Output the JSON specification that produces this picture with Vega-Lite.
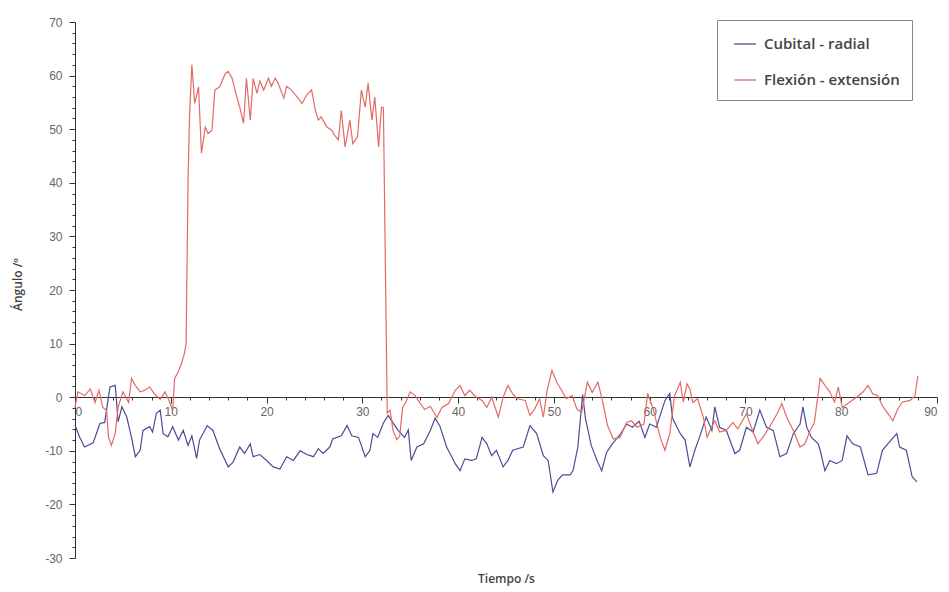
{
  "$schema": "https://vega.github.io/schema/vega-lite/v6.json",
  "width": 862,
  "height": 536,
  "autosize": {"type": "none"},
  "padding": {"left": 75, "top": 22, "right": 12, "bottom": 34},
  "background": "white",
  "config": {
    "view": {"stroke": null},
    "axis": {"grid": false, "domainColor": "#333", "tickColor": "#333", "labelColor": "#666", "labelFont": "Liberation Sans", "labelFontSize": 12, "titleFont": "Open Sans", "titleFontWeight": 600, "titleFontSize": 12, "titleColor": "#444"}
  },
  "data": {"values": [
    {"serie":"Cubital - radial","t":0,"v":-5.2},{"serie":"Cubital - radial","t":0.5,"v":-7.5},{"serie":"Cubital - radial","t":1.0,"v":-9.3},{"serie":"Cubital - radial","t":1.9,"v":-8.5},{"serie":"Cubital - radial","t":2.6,"v":-4.9},{"serie":"Cubital - radial","t":3.1,"v":-4.7},{"serie":"Cubital - radial","t":3.65,"v":1.9},{"serie":"Cubital - radial","t":4.2,"v":2.2},{"serie":"Cubital - radial","t":4.5,"v":-4.6},{"serie":"Cubital - radial","t":4.9,"v":-1.8},{"serie":"Cubital - radial","t":5.4,"v":-3.7},{"serie":"Cubital - radial","t":5.9,"v":-7.5},{"serie":"Cubital - radial","t":6.3,"v":-11.1},{"serie":"Cubital - radial","t":6.8,"v":-9.9},{"serie":"Cubital - radial","t":7.1,"v":-6.2},{"serie":"Cubital - radial","t":7.8,"v":-5.5},{"serie":"Cubital - radial","t":8.1,"v":-6.5},{"serie":"Cubital - radial","t":8.5,"v":-3.0},{"serie":"Cubital - radial","t":8.9,"v":-2.4},{"serie":"Cubital - radial","t":9.2,"v":-6.8},{"serie":"Cubital - radial","t":9.7,"v":-7.4},{"serie":"Cubital - radial","t":10.2,"v":-5.5},{"serie":"Cubital - radial","t":10.8,"v":-8.0},{"serie":"Cubital - radial","t":11.3,"v":-6.2},{"serie":"Cubital - radial","t":11.8,"v":-9.0},{"serie":"Cubital - radial","t":12.2,"v":-7.2},{"serie":"Cubital - radial","t":12.7,"v":-11.4},{"serie":"Cubital - radial","t":13.0,"v":-8.0},{"serie":"Cubital - radial","t":13.8,"v":-5.3},{"serie":"Cubital - radial","t":14.4,"v":-6.2},{"serie":"Cubital - radial","t":15.1,"v":-9.6},{"serie":"Cubital - radial","t":16.0,"v":-13.0},{"serie":"Cubital - radial","t":16.5,"v":-12.1},{"serie":"Cubital - radial","t":17.2,"v":-9.3},{"serie":"Cubital - radial","t":17.7,"v":-10.5},{"serie":"Cubital - radial","t":18.3,"v":-8.7},{"serie":"Cubital - radial","t":18.6,"v":-11.1},{"serie":"Cubital - radial","t":19.3,"v":-10.7},{"serie":"Cubital - radial","t":20.0,"v":-11.8},{"serie":"Cubital - radial","t":20.7,"v":-13.0},{"serie":"Cubital - radial","t":21.4,"v":-13.4},{"serie":"Cubital - radial","t":22.1,"v":-11.1},{"serie":"Cubital - radial","t":22.8,"v":-11.8},{"serie":"Cubital - radial","t":23.5,"v":-10.0},{"serie":"Cubital - radial","t":24.2,"v":-10.7},{"serie":"Cubital - radial","t":24.9,"v":-11.1},{"serie":"Cubital - radial","t":25.4,"v":-9.6},{"serie":"Cubital - radial","t":25.9,"v":-10.5},{"serie":"Cubital - radial","t":26.6,"v":-9.3},{"serie":"Cubital - radial","t":26.9,"v":-7.8},{"serie":"Cubital - radial","t":27.8,"v":-7.2},{"serie":"Cubital - radial","t":28.4,"v":-5.3},{"serie":"Cubital - radial","t":28.9,"v":-7.2},{"serie":"Cubital - radial","t":29.6,"v":-7.5},{"serie":"Cubital - radial","t":30.3,"v":-11.1},{"serie":"Cubital - radial","t":30.8,"v":-9.9},{"serie":"Cubital - radial","t":31.1,"v":-6.8},{"serie":"Cubital - radial","t":31.6,"v":-7.5},{"serie":"Cubital - radial","t":32.2,"v":-4.8},{"serie":"Cubital - radial","t":32.7,"v":-3.4},{"serie":"Cubital - radial","t":33.2,"v":-4.8},{"serie":"Cubital - radial","t":33.7,"v":-6.1},{"serie":"Cubital - radial","t":34.4,"v":-7.5},{"serie":"Cubital - radial","t":34.8,"v":-6.1},{"serie":"Cubital - radial","t":35.1,"v":-11.8},{"serie":"Cubital - radial","t":35.7,"v":-9.3},{"serie":"Cubital - radial","t":36.4,"v":-8.7},{"serie":"Cubital - radial","t":37.1,"v":-6.2},{"serie":"Cubital - radial","t":37.6,"v":-3.9},{"serie":"Cubital - radial","t":38.1,"v":-5.4},{"serie":"Cubital - radial","t":38.8,"v":-9.3},{"serie":"Cubital - radial","t":39.7,"v":-12.4},{"serie":"Cubital - radial","t":40.2,"v":-13.7},{"serie":"Cubital - radial","t":40.7,"v":-11.5},{"serie":"Cubital - radial","t":41.4,"v":-11.8},{"serie":"Cubital - radial","t":41.9,"v":-11.5},{"serie":"Cubital - radial","t":42.5,"v":-7.5},{"serie":"Cubital - radial","t":43.0,"v":-8.7},{"serie":"Cubital - radial","t":43.5,"v":-10.9},{"serie":"Cubital - radial","t":44.0,"v":-9.9},{"serie":"Cubital - radial","t":44.7,"v":-13.0},{"serie":"Cubital - radial","t":45.2,"v":-11.8},{"serie":"Cubital - radial","t":45.7,"v":-9.9},{"serie":"Cubital - radial","t":46.8,"v":-9.3},{"serie":"Cubital - radial","t":47.5,"v":-5.3},{"serie":"Cubital - radial","t":48.2,"v":-6.8},{"serie":"Cubital - radial","t":48.9,"v":-10.9},{"serie":"Cubital - radial","t":49.4,"v":-11.8},{"serie":"Cubital - radial","t":49.9,"v":-17.7},{"serie":"Cubital - radial","t":50.4,"v":-15.5},{"serie":"Cubital - radial","t":50.9,"v":-14.5},{"serie":"Cubital - radial","t":51.7,"v":-14.5},{"serie":"Cubital - radial","t":52.0,"v":-13.7},{"serie":"Cubital - radial","t":52.5,"v":-9.3},{"serie":"Cubital - radial","t":53.0,"v":0.5},{"serie":"Cubital - radial","t":53.3,"v":-4.0},{"serie":"Cubital - radial","t":53.9,"v":-9.0},{"serie":"Cubital - radial","t":54.5,"v":-11.8},{"serie":"Cubital - radial","t":55.0,"v":-13.7},{"serie":"Cubital - radial","t":55.5,"v":-10.3},{"serie":"Cubital - radial","t":56.1,"v":-8.7},{"serie":"Cubital - radial","t":56.9,"v":-7.0},{"serie":"Cubital - radial","t":57.6,"v":-5.0},{"serie":"Cubital - radial","t":58.2,"v":-5.6},{"serie":"Cubital - radial","t":58.9,"v":-4.5},{"serie":"Cubital - radial","t":59.5,"v":-7.5},{"serie":"Cubital - radial","t":60.0,"v":-5.0},{"serie":"Cubital - radial","t":60.7,"v":-5.6},{"serie":"Cubital - radial","t":61.6,"v":-0.6},{"serie":"Cubital - radial","t":62.1,"v":0.7},{"serie":"Cubital - radial","t":62.4,"v":-4.0},{"serie":"Cubital - radial","t":63.2,"v":-6.8},{"serie":"Cubital - radial","t":63.7,"v":-8.0},{"serie":"Cubital - radial","t":64.2,"v":-13.0},{"serie":"Cubital - radial","t":64.7,"v":-10.0},{"serie":"Cubital - radial","t":65.2,"v":-7.5},{"serie":"Cubital - radial","t":65.9,"v":-3.7},{"serie":"Cubital - radial","t":66.5,"v":-6.2},{"serie":"Cubital - radial","t":66.8,"v":-1.8},{"serie":"Cubital - radial","t":67.3,"v":-5.6},{"serie":"Cubital - radial","t":68.0,"v":-6.2},{"serie":"Cubital - radial","t":68.9,"v":-10.5},{"serie":"Cubital - radial","t":69.4,"v":-9.9},{"serie":"Cubital - radial","t":70.1,"v":-5.6},{"serie":"Cubital - radial","t":70.8,"v":-6.5},{"serie":"Cubital - radial","t":71.5,"v":-2.4},{"serie":"Cubital - radial","t":72.2,"v":-5.6},{"serie":"Cubital - radial","t":72.9,"v":-6.2},{"serie":"Cubital - radial","t":73.6,"v":-11.1},{"serie":"Cubital - radial","t":74.3,"v":-10.5},{"serie":"Cubital - radial","t":75.0,"v":-6.8},{"serie":"Cubital - radial","t":75.7,"v":-5.0},{"serie":"Cubital - radial","t":76.0,"v":-1.8},{"serie":"Cubital - radial","t":76.4,"v":-5.6},{"serie":"Cubital - radial","t":76.9,"v":-7.5},{"serie":"Cubital - radial","t":77.6,"v":-8.7},{"serie":"Cubital - radial","t":77.8,"v":-9.9},{"serie":"Cubital - radial","t":78.3,"v":-13.7},{"serie":"Cubital - radial","t":78.8,"v":-11.8},{"serie":"Cubital - radial","t":79.5,"v":-12.4},{"serie":"Cubital - radial","t":80.1,"v":-11.8},{"serie":"Cubital - radial","t":80.6,"v":-7.2},{"serie":"Cubital - radial","t":81.2,"v":-8.7},{"serie":"Cubital - radial","t":82.0,"v":-9.3},{"serie":"Cubital - radial","t":82.8,"v":-14.5},{"serie":"Cubital - radial","t":83.7,"v":-14.2},{"serie":"Cubital - radial","t":84.3,"v":-9.9},{"serie":"Cubital - radial","t":85.2,"v":-8.0},{"serie":"Cubital - radial","t":85.8,"v":-6.8},{"serie":"Cubital - radial","t":86.1,"v":-9.3},{"serie":"Cubital - radial","t":86.8,"v":-9.9},{"serie":"Cubital - radial","t":87.4,"v":-14.8},{"serie":"Cubital - radial","t":87.9,"v":-15.8},
    {"serie":"Flexión - extensión","t":0,"v":-1.9},{"serie":"Flexión - extensión","t":0.3,"v":1.0},{"serie":"Flexión - extensión","t":1.0,"v":0.3},{"serie":"Flexión - extensión","t":1.6,"v":1.5},{"serie":"Flexión - extensión","t":2.1,"v":-1.0},{"serie":"Flexión - extensión","t":2.5,"v":1.3},{"serie":"Flexión - extensión","t":2.9,"v":-1.9},{"serie":"Flexión - extensión","t":3.3,"v":-2.5},{"serie":"Flexión - extensión","t":3.5,"v":-7.5},{"serie":"Flexión - extensión","t":3.8,"v":-9.0},{"serie":"Flexión - extensión","t":4.2,"v":-6.8},{"serie":"Flexión - extensión","t":4.5,"v":-1.9},{"serie":"Flexión - extensión","t":5.0,"v":1.0},{"serie":"Flexión - extensión","t":5.6,"v":-1.0},{"serie":"Flexión - extensión","t":5.9,"v":3.5},{"serie":"Flexión - extensión","t":6.3,"v":2.2},{"serie":"Flexión - extensión","t":6.8,"v":1.0},{"serie":"Flexión - extensión","t":7.3,"v":1.3},{"serie":"Flexión - extensión","t":7.8,"v":1.9},{"serie":"Flexión - extensión","t":8.3,"v":0.6},{"serie":"Flexión - extensión","t":8.9,"v":-0.4},{"serie":"Flexión - extensión","t":9.4,"v":1.0},{"serie":"Flexión - extensión","t":9.9,"v":-1.0},{"serie":"Flexión - extensión","t":10.2,"v":-2.5},{"serie":"Flexión - extensión","t":10.4,"v":3.5},{"serie":"Flexión - extensión","t":10.8,"v":4.8},{"serie":"Flexión - extensión","t":11.1,"v":6.2},{"serie":"Flexión - extensión","t":11.4,"v":8.0},{"serie":"Flexión - extensión","t":11.6,"v":10.0},{"serie":"Flexión - extensión","t":11.8,"v":40.0},{"serie":"Flexión - extensión","t":11.95,"v":52.0},{"serie":"Flexión - extensión","t":12.2,"v":62.0},{"serie":"Flexión - extensión","t":12.5,"v":54.8},{"serie":"Flexión - extensión","t":12.9,"v":57.9},{"serie":"Flexión - extensión","t":13.2,"v":45.5},{"serie":"Flexión - extensión","t":13.6,"v":50.4},{"serie":"Flexión - extensión","t":13.9,"v":49.2},{"serie":"Flexión - extensión","t":14.3,"v":49.8},{"serie":"Flexión - extensión","t":14.6,"v":57.3},{"serie":"Flexión - extensión","t":15.1,"v":57.9},{"serie":"Flexión - extensión","t":15.7,"v":60.4},{"serie":"Flexión - extensión","t":16.0,"v":60.8},{"serie":"Flexión - extensión","t":16.4,"v":59.5},{"serie":"Flexión - extensión","t":16.9,"v":56.0},{"serie":"Flexión - extensión","t":17.2,"v":54.1},{"serie":"Flexión - extensión","t":17.6,"v":51.1},{"serie":"Flexión - extensión","t":17.9,"v":59.5},{"serie":"Flexión - extensión","t":18.3,"v":51.7},{"serie":"Flexión - extensión","t":18.6,"v":59.5},{"serie":"Flexión - extensión","t":19.0,"v":56.7},{"serie":"Flexión - extensión","t":19.3,"v":59.0},{"serie":"Flexión - extensión","t":19.7,"v":57.3},{"serie":"Flexión - extensión","t":20.2,"v":59.5},{"serie":"Flexión - extensión","t":20.5,"v":58.0},{"serie":"Flexión - extensión","t":20.9,"v":59.5},{"serie":"Flexión - extensión","t":21.2,"v":58.6},{"serie":"Flexión - extensión","t":21.8,"v":55.8},{"serie":"Flexión - extensión","t":22.1,"v":58.0},{"serie":"Flexión - extensión","t":22.6,"v":57.3},{"serie":"Flexión - extensión","t":23.2,"v":56.0},{"serie":"Flexión - extensión","t":23.7,"v":54.8},{"serie":"Flexión - extensión","t":24.2,"v":56.4},{"serie":"Flexión - extensión","t":24.7,"v":57.3},{"serie":"Flexión - extensión","t":25.1,"v":53.5},{"serie":"Flexión - extensión","t":25.4,"v":51.7},{"serie":"Flexión - extensión","t":25.7,"v":52.3},{"serie":"Flexión - extensión","t":26.3,"v":50.4},{"serie":"Flexión - extensión","t":26.8,"v":49.8},{"serie":"Flexión - extensión","t":27.1,"v":48.9},{"serie":"Flexión - extensión","t":27.5,"v":48.0},{"serie":"Flexión - extensión","t":27.8,"v":53.5},{"serie":"Flexión - extensión","t":28.2,"v":46.7},{"serie":"Flexión - extensión","t":28.7,"v":51.7},{"serie":"Flexión - extensión","t":29.0,"v":47.3},{"serie":"Flexión - extensión","t":29.5,"v":48.6},{"serie":"Flexión - extensión","t":29.9,"v":57.3},{"serie":"Flexión - extensión","t":30.3,"v":54.1},{"serie":"Flexión - extensión","t":30.6,"v":58.6},{"serie":"Flexión - extensión","t":31.0,"v":51.7},{"serie":"Flexión - extensión","t":31.3,"v":56.0},{"serie":"Flexión - extensión","t":31.7,"v":46.7},{"serie":"Flexión - extensión","t":32.0,"v":54.1},{"serie":"Flexión - extensión","t":32.2,"v":54.0},{"serie":"Flexión - extensión","t":32.6,"v":-3.0},{"serie":"Flexión - extensión","t":32.9,"v":-2.4},{"serie":"Flexión - extensión","t":33.2,"v":-6.2},{"serie":"Flexión - extensión","t":33.6,"v":-7.9},{"serie":"Flexión - extensión","t":33.9,"v":-7.3},{"serie":"Flexión - extensión","t":34.2,"v":-2.0},{"serie":"Flexión - extensión","t":34.6,"v":-0.7},{"serie":"Flexión - extensión","t":35.0,"v":1.0},{"serie":"Flexión - extensión","t":35.5,"v":0.3},{"serie":"Flexión - extensión","t":36.0,"v":-1.0},{"serie":"Flexión - extensión","t":36.5,"v":-2.3},{"serie":"Flexión - extensión","t":37.1,"v":-1.7},{"serie":"Flexión - extensión","t":37.8,"v":-3.8},{"serie":"Flexión - extensión","t":38.3,"v":-1.9},{"serie":"Flexión - extensión","t":39.0,"v":-1.2},{"serie":"Flexión - extensión","t":39.7,"v":1.3},{"serie":"Flexión - extensión","t":40.2,"v":2.2},{"serie":"Flexión - extensión","t":40.7,"v":0.3},{"serie":"Flexión - extensión","t":41.2,"v":1.3},{"serie":"Flexión - extensión","t":41.9,"v":0.0},{"serie":"Flexión - extensión","t":42.5,"v":-0.6},{"serie":"Flexión - extensión","t":43.0,"v":-1.9},{"serie":"Flexión - extensión","t":43.5,"v":0.0},{"serie":"Flexión - extensión","t":44.2,"v":-3.7},{"serie":"Flexión - extensión","t":44.7,"v":0.0},{"serie":"Flexión - extensión","t":45.2,"v":2.2},{"serie":"Flexión - extensión","t":45.7,"v":0.6},{"serie":"Flexión - extensión","t":46.2,"v":-0.3},{"serie":"Flexión - extensión","t":47.0,"v":-0.6},{"serie":"Flexión - extensión","t":47.5,"v":-3.4},{"serie":"Flexión - extensión","t":48.0,"v":-2.2},{"serie":"Flexión - extensión","t":48.5,"v":-0.3},{"serie":"Flexión - extensión","t":48.9,"v":-3.7},{"serie":"Flexión - extensión","t":49.3,"v":1.3},{"serie":"Flexión - extensión","t":49.8,"v":5.0},{"serie":"Flexión - extensión","t":50.3,"v":2.8},{"serie":"Flexión - extensión","t":50.8,"v":1.3},{"serie":"Flexión - extensión","t":51.3,"v":-0.3},{"serie":"Flexión - extensión","t":51.9,"v":0.3},{"serie":"Flexión - extensión","t":52.4,"v":-2.2},{"serie":"Flexión - extensión","t":52.9,"v":-2.8},{"serie":"Flexión - extensión","t":53.5,"v":2.8},{"serie":"Flexión - extensión","t":54.0,"v":0.9},{"serie":"Flexión - extensión","t":54.6,"v":2.8},{"serie":"Flexión - extensión","t":55.1,"v":-0.9},{"serie":"Flexión - extensión","t":55.6,"v":-5.3},{"serie":"Flexión - extensión","t":56.2,"v":-7.8},{"serie":"Flexión - extensión","t":56.9,"v":-7.5},{"serie":"Flexión - extensión","t":57.6,"v":-4.7},{"serie":"Flexión - extensión","t":58.1,"v":-4.4},{"serie":"Flexión - extensión","t":58.7,"v":-5.6},{"serie":"Flexión - extensión","t":59.4,"v":-5.0},{"serie":"Flexión - extensión","t":59.8,"v":0.7},{"serie":"Flexión - extensión","t":60.4,"v":-2.4},{"serie":"Flexión - extensión","t":61.1,"v":-7.5},{"serie":"Flexión - extensión","t":61.6,"v":-9.9},{"serie":"Flexión - extensión","t":62.1,"v":-6.8},{"serie":"Flexión - extensión","t":62.6,"v":0.3},{"serie":"Flexión - extensión","t":63.2,"v":2.8},{"serie":"Flexión - extensión","t":63.5,"v":-0.9},{"serie":"Flexión - extensión","t":63.9,"v":2.5},{"serie":"Flexión - extensión","t":64.2,"v":1.5},{"serie":"Flexión - extensión","t":64.5,"v":-1.0},{"serie":"Flexión - extensión","t":65.0,"v":-0.3},{"serie":"Flexión - extensión","t":65.6,"v":-3.7},{"serie":"Flexión - extensión","t":66.0,"v":-7.5},{"serie":"Flexión - extensión","t":66.3,"v":-6.2},{"serie":"Flexión - extensión","t":66.8,"v":-4.4},{"serie":"Flexión - extensión","t":67.3,"v":-6.5},{"serie":"Flexión - extensión","t":68.0,"v":-6.2},{"serie":"Flexión - extensión","t":68.7,"v":-4.7},{"serie":"Flexión - extensión","t":69.2,"v":-5.9},{"serie":"Flexión - extensión","t":70.1,"v":-3.1},{"serie":"Flexión - extensión","t":70.8,"v":-6.5},{"serie":"Flexión - extensión","t":71.3,"v":-8.7},{"serie":"Flexión - extensión","t":71.8,"v":-7.5},{"serie":"Flexión - extensión","t":72.5,"v":-5.6},{"serie":"Flexión - extensión","t":73.3,"v":-3.1},{"serie":"Flexión - extensión","t":73.8,"v":-1.2},{"serie":"Flexión - extensión","t":74.3,"v":-3.7},{"serie":"Flexión - extensión","t":75.0,"v":-6.2},{"serie":"Flexión - extensión","t":75.7,"v":-9.3},{"serie":"Flexión - extensión","t":76.2,"v":-8.7},{"serie":"Flexión - extensión","t":76.7,"v":-6.5},{"serie":"Flexión - extensión","t":77.2,"v":-4.7},{"serie":"Flexión - extensión","t":77.8,"v":3.5},{"serie":"Flexión - extensión","t":78.3,"v":2.2},{"serie":"Flexión - extensión","t":78.8,"v":1.0},{"serie":"Flexión - extensión","t":79.3,"v":-0.9},{"serie":"Flexión - extensión","t":79.7,"v":1.9},{"serie":"Flexión - extensión","t":80.1,"v":-1.9},{"serie":"Flexión - extensión","t":80.9,"v":-0.9},{"serie":"Flexión - extensión","t":81.6,"v":0.0},{"serie":"Flexión - extensión","t":82.3,"v":1.0},{"serie":"Flexión - extensión","t":82.8,"v":2.2},{"serie":"Flexión - extensión","t":83.3,"v":0.6},{"serie":"Flexión - extensión","t":83.8,"v":0.3},{"serie":"Flexión - extensión","t":84.3,"v":-1.6},{"serie":"Flexión - extensión","t":84.9,"v":-3.1},{"serie":"Flexión - extensión","t":85.4,"v":-4.4},{"serie":"Flexión - extensión","t":85.9,"v":-2.2},{"serie":"Flexión - extensión","t":86.4,"v":-0.9},{"serie":"Flexión - extensión","t":87.2,"v":-0.6},{"serie":"Flexión - extensión","t":87.7,"v":0.3},{"serie":"Flexión - extensión","t":88.0,"v":4.0}
  ]},
  "mark": {"type": "line", "strokeWidth": 1.2},
  "encoding": {
    "x": {"field": "t", "type": "quantitative", "scale": {"domain": [0, 90], "nice": false, "zero": false},
      "axis": {"orient": "bottom", "offset": -161,
        "values": [0,2,4,6,8,10,12,14,16,18,20,22,24,26,28,30,32,34,36,38,40,42,44,46,48,50,52,54,56,58,60,62,64,66,68,70,72,74,76,78,80,82,84,86,88,90],
        "labelExpr": "datum.value % 10 === 0 ? replace(datum.label, '−', '-') : ''",
        "tickSize": {"condition": {"test": "datum.value % 10 === 0", "value": 6}, "value": 3},
        "labelPadding": 3, "title": "Tiempo /s", "titleY": 176}},
    "y": {"field": "v", "type": "quantitative", "scale": {"domain": [-30, 70], "nice": false, "zero": false},
      "axis": {"orient": "left",
        "values": [-30,-28,-26,-24,-22,-20,-18,-16,-14,-12,-10,-8,-6,-4,-2,0,2,4,6,8,10,12,14,16,18,20,22,24,26,28,30,32,34,36,38,40,42,44,46,48,50,52,54,56,58,60,62,64,66,68,70],
        "labelExpr": "datum.value % 10 === 0 ? replace(datum.label, '−', '-') : ''",
        "tickSize": {"condition": {"test": "datum.value % 10 === 0", "value": 6}, "value": 3},
        "labelPadding": 7, "title": "Ángulo /º", "titleX": -51, "titleY": 262}},
    "color": {"field": "serie", "type": "nominal",
      "scale": {"domain": ["Cubital - radial", "Flexión - extensión"], "range": ["#4c4c94", "#e46a66"]},
      "legend": {"orient": "none", "legendX": 642, "legendY": -2, "title": null, "strokeColor": "#888", "fillColor": "white", "padding": 12, "rowPadding": 16, "symbolOffset": 4, "symbolType": "stroke", "symbolSize": 480, "symbolStrokeWidth": 1.3, "labelFont": "Open Sans", "labelFontWeight": 600, "labelFontSize": 15, "labelColor": "#444", "labelOffset": 7}}
  }
}
